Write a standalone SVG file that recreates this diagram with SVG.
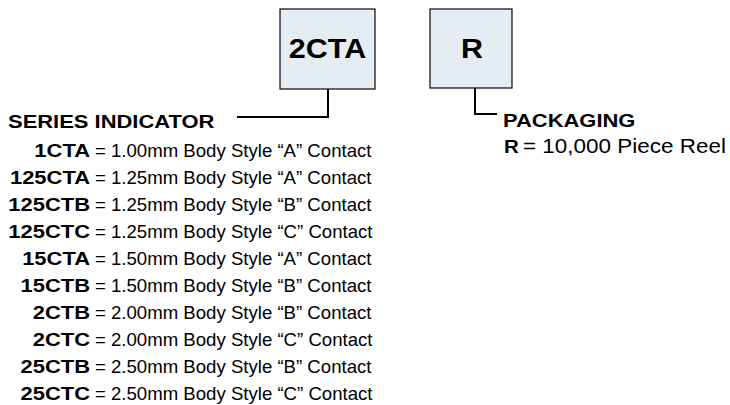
<svg xmlns="http://www.w3.org/2000/svg" width="730" height="405" viewBox="0 0 730 405">
  <style>
    .box { fill: #e5edf3; stroke: #1a1a1a; stroke-width: 1.3; }
    .code { font-family: "Liberation Sans", Arial, sans-serif; font-weight: bold; font-size: 27px; fill: #000; text-anchor: middle; }
    .wire { fill: none; stroke: #000; stroke-width: 2; }
    .t { font-family: "Liberation Sans", Arial, sans-serif; font-size: 18.6px; fill: #000; }
    .b { font-weight: bold; }
    .k { font-weight: bold; text-anchor: end; }
  </style>
  <rect width="730" height="405" fill="#fff"/>

  <g id="node-series">
    <rect class="box" x="280" y="9" width="95" height="80"/>
    <text class="code" transform="translate(327.5,58) scale(1.13,1)">2CTA</text>
  </g>
  <g id="node-packaging">
    <rect class="box" x="430" y="9" width="82" height="79"/>
    <text class="code" transform="translate(472,58) scale(1.13,1)">R</text>
  </g>

  <g id="connectors">
    <polyline class="wire" points="328,89 328,117 237,117"/>
    <polyline class="wire" points="475,88 475,114 497,114"/>
  </g>

  <g id="series-list" class="t">
    <text class="b" transform="translate(8,128) scale(1.18,1)">SERIES INDICATOR</text>
    <text class="k" transform="translate(90,157) scale(1.18,1)">1CTA</text><text x="95" y="157">= 1.00mm Body Style “A” Contact</text>
    <text class="k" transform="translate(90,184) scale(1.18,1)">125CTA</text><text x="95" y="184">= 1.25mm Body Style “A” Contact</text>
    <text class="k" transform="translate(90,211) scale(1.18,1)">125CTB</text><text x="95" y="211">= 1.25mm Body Style “B” Contact</text>
    <text class="k" transform="translate(90,238) scale(1.18,1)">125CTC</text><text x="95" y="238">= 1.25mm Body Style “C” Contact</text>
    <text class="k" transform="translate(90,265) scale(1.18,1)">15CTA</text><text x="95" y="265">= 1.50mm Body Style “A” Contact</text>
    <text class="k" transform="translate(90,292) scale(1.18,1)">15CTB</text><text x="95" y="292">= 1.50mm Body Style “B” Contact</text>
    <text class="k" transform="translate(90,319) scale(1.18,1)">2CTB</text><text x="95" y="319">= 2.00mm Body Style “B” Contact</text>
    <text class="k" transform="translate(90,346) scale(1.18,1)">2CTC</text><text x="95" y="346">= 2.00mm Body Style “C” Contact</text>
    <text class="k" transform="translate(90,373) scale(1.18,1)">25CTB</text><text x="95" y="373">= 2.50mm Body Style “B” Contact</text>
    <text class="k" transform="translate(90,400) scale(1.18,1)">25CTC</text><text x="95" y="400">= 2.50mm Body Style “C” Contact</text>
  </g>

  <g id="packaging-list" class="t">
    <text class="b" transform="translate(503,127) scale(1.18,1)">PACKAGING</text>
    <text class="b" transform="translate(504,153) scale(1.1,1)">R</text>
    <text x="523" y="153" font-size="20" textLength="203" lengthAdjust="spacingAndGlyphs">= 10,000 Piece Reel</text>
  </g>
</svg>
